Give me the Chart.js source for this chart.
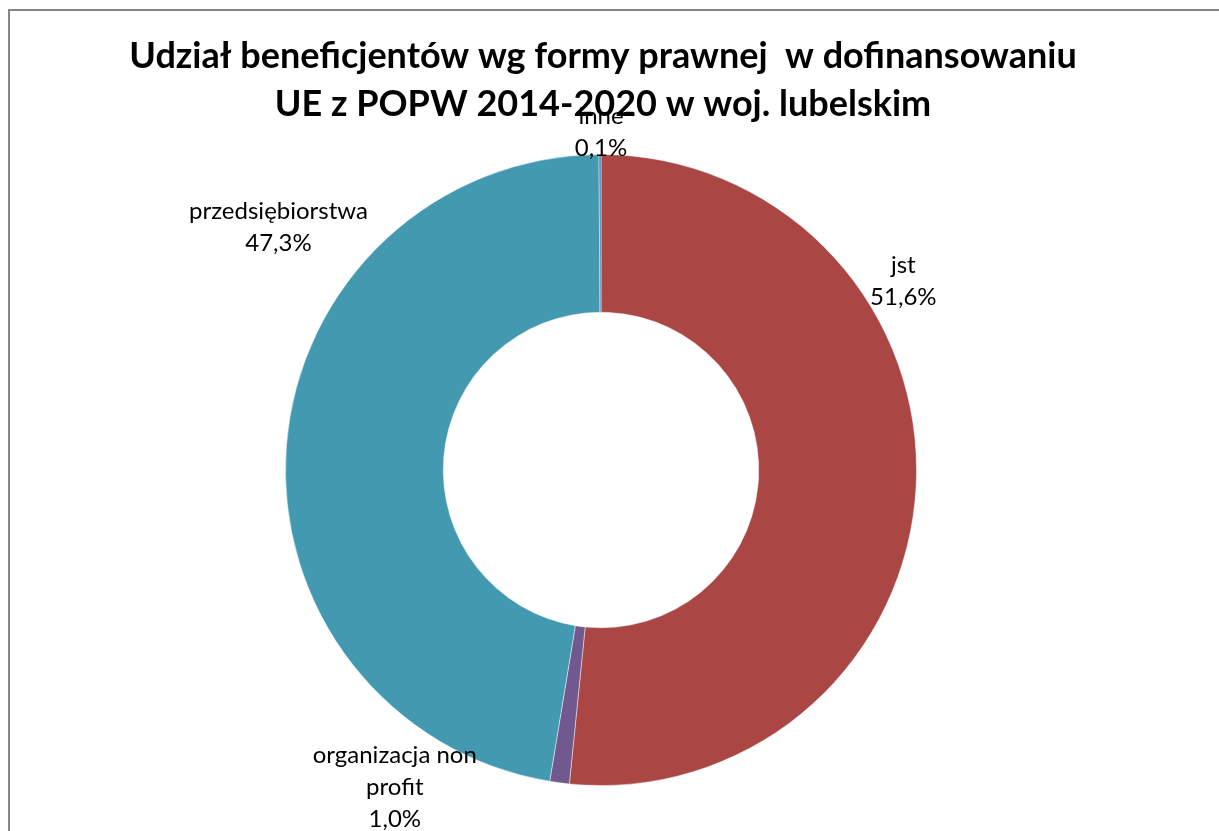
<!DOCTYPE html>
<html>
<head>
<meta charset="utf-8">
<script src="https://cdn.jsdelivr.net/npm/chart.js@4/dist/chart.umd.min.js"></script>
<style>
  html, body { margin: 0; padding: 0; background: #fff; overflow: hidden; }
  #frame { position: absolute; left: 8px; top: 9px; width: 1400px; height: 1000px;
           border-left: 2px solid #868686; border-top: 2px solid #868686; }
  #wrap { position: absolute; left: 0; top: 0; width: 1219px; height: 831px; }
</style>
</head>
<body>
<div id="frame"></div>
<div id="wrap"><canvas id="pieChart"></canvas></div>
<script>
// chart data
const titleLines = ['Udział beneficjentów wg formy prawnej  w dofinansowaniu',
                    'UE z POPW 2014-2020 w woj. lubelskim'];
const categories = ['jst', 'organizacja non profit', 'przedsiębiorstwa', 'inne'];
const labelLines = [['jst'], ['organizacja non', 'profit'], ['przedsiębiorstwa'], ['inne']];
const shares = [51.6, 1.0, 47.3, 0.1];
const sliceColors = ['#AA4644', '#71588F', '#4399B0', '#4572A7'];
// where each label sits: angle (deg, clockwise from top) and distance in outer radii
const labelSpots = [[58, 1.13], [213, 1.20], [307, 1.28], [0, 1.07]];

const fmt = v => v.toFixed(1).replace('.', ',') + '%';

// title drawn by hand so it can be wider than the ring's box
const wideTitle = {
  id: 'wideTitle',
  afterDraw(chart) {
    const ctx = chart.ctx;
    const cx = chart.getDatasetMeta(0).data[0].x;
    ctx.save();
    ctx.font = 'bold 36px Lato, "Liberation Sans", sans-serif';
    ctx.fillStyle = '#000';
    ctx.textAlign = 'center';
    ctx.textBaseline = 'middle';
    titleLines.forEach((t, k) => ctx.fillText(t, cx + 2, 56 + k * 48));
    ctx.restore();
  }
};

// draws the category + value labels outside the ring, Excel style
const outsideLabels = {
  id: 'outsideLabels',
  afterDatasetsDraw(chart) {
    const ctx = chart.ctx;
    const arcs = chart.getDatasetMeta(0).data;
    ctx.save();
    ctx.font = '24px Lato, "Liberation Sans", sans-serif';
    ctx.fillStyle = '#000';
    ctx.textAlign = 'center';
    ctx.textBaseline = 'middle';
    arcs.forEach((arc, i) => {
      const [deg, dist] = labelSpots[i];
      const a = (deg - 90) * Math.PI / 180;
      const cx = arc.x + Math.cos(a) * arc.outerRadius * dist;
      const cy = arc.y + Math.sin(a) * arc.outerRadius * dist;
      const lines = labelLines[i].concat([fmt(shares[i])]);
      const lh = 32;
      const top = cy - (lines.length - 1) * lh / 2;
      lines.forEach((t, k) => ctx.fillText(t, cx, top + k * lh));
    });
    ctx.restore();
  }
};

const ctx = document.getElementById('pieChart').getContext('2d');
new Chart(ctx, {
  type: 'doughnut',
  data: {
    labels: categories,
    datasets: [{
      data: shares,
      backgroundColor: sliceColors,
      borderColor: 'rgba(255,255,255,0.45)',
      borderWidth: 1
    }]
  },
  options: {
    responsive: true,
    maintainAspectRatio: false,
    animation: false,
    cutout: '50%',
    layout: { padding: { top: 154, bottom: 45, left: 285, right: 302 } },
    plugins: {
      legend: { display: false },
      tooltip: { enabled: false },
      title: { display: false }
    }
  },
  plugins: [outsideLabels, wideTitle]
});
</script>
</body>
</html>
